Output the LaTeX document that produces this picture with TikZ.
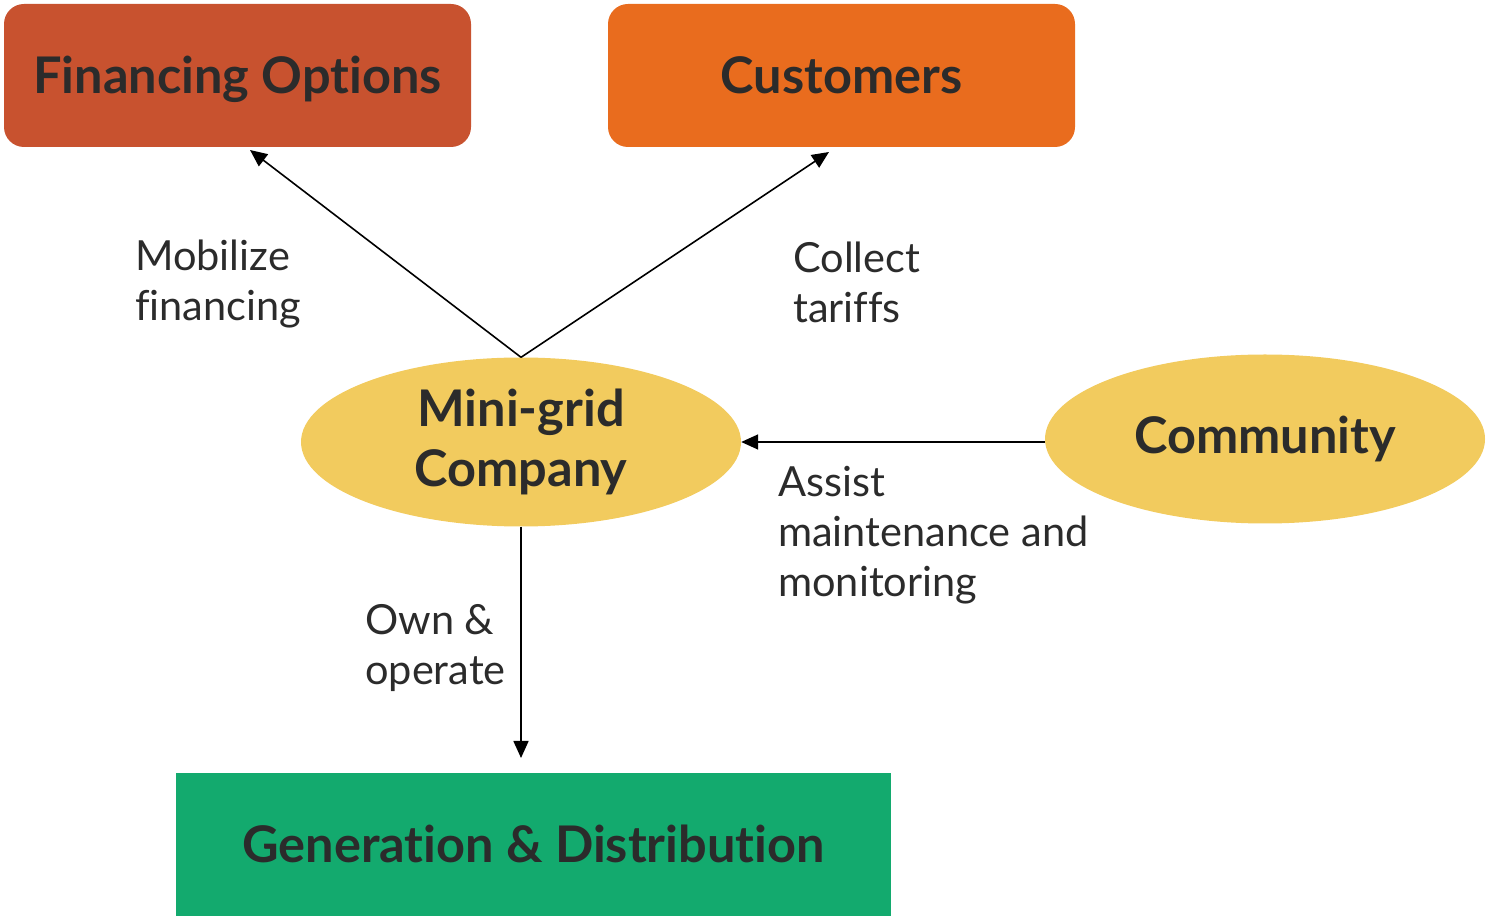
\documentclass[tikz,border=0pt]{standalone}
\usepackage{fontspec}
\setmainfont{Lato}[RawFeature={-liga;-dlig;-calt;-clig}]
\usetikzlibrary{shapes.geometric,arrows.meta}
\definecolor{finC}{HTML}{C8522F}
\definecolor{cusC}{HTML}{E96C1E}
\definecolor{ellC}{HTML}{F2CB5E}
\definecolor{genC}{HTML}{13AA6E}
\definecolor{txtC}{HTML}{2B2B2B}
\tikzset{
  boxtitle/.style={font=\fontsize{50.5}{60}\selectfont\bfseries, text=txtC},
  fixbase/.style={text height=36pt, text depth=0pt},
  rbox/.style={rounded corners=20pt, minimum width=467pt, minimum height=143pt, inner sep=0pt, boxtitle, fixbase},
  ell/.style={ellipse, fill=ellC, minimum width=440pt, minimum height=169pt, inner sep=0pt, boxtitle, align=center},
  lbl/.style={font=\fontsize{41.5}{50}\selectfont, text=txtC, align=left, anchor=north west, inner sep=0pt},
  conn/.style={line width=1.6pt, -{Triangle[length=17pt,width=15pt]}}
}
\begin{document}
\begin{tikzpicture}[x=1pt,y=1pt]
\useasboundingbox (0,0) rectangle (1486,921);
\node[rbox, fill=finC] (fin) at (237.5,845.5) {Financing Options};
\node[rbox, fill=cusC] (cus) at (841.5,845.5) {Customers};
\node[ell] (mg) at (521,479) {Mini-grid\\Company};
\node[ell] (com) at (1265,482) {Community};
\node[rectangle, fill=genC, minimum width=715pt, minimum height=143pt, inner sep=0pt, boxtitle, fixbase] (gen) at (533.5,76.5) {Generation \& Distribution};
\coordinate (finEnd) at (250,771);
\coordinate (cusEnd) at (829,769);
\coordinate (genEnd) at (521,163);
\coordinate (comStart) at (1045,479);
\draw[conn] (mg.north) -- (finEnd);
\draw[conn] (mg.north) -- (cusEnd);
\draw[conn] (comStart) -- (mg.east);
\draw[conn] (mg.south) -- (genEnd);
\node[lbl] (l1) at (135,681) {Mobilize\\financing};
\node[lbl] (l2) at (793,679) {Collect\\tariffs};
\node[lbl] (l3) at (778,455) {Assist\\maintenance and\\monitoring};
\node[lbl] (l4) at (365,317) {Own \&\\operate};
\end{tikzpicture}
\end{document}
